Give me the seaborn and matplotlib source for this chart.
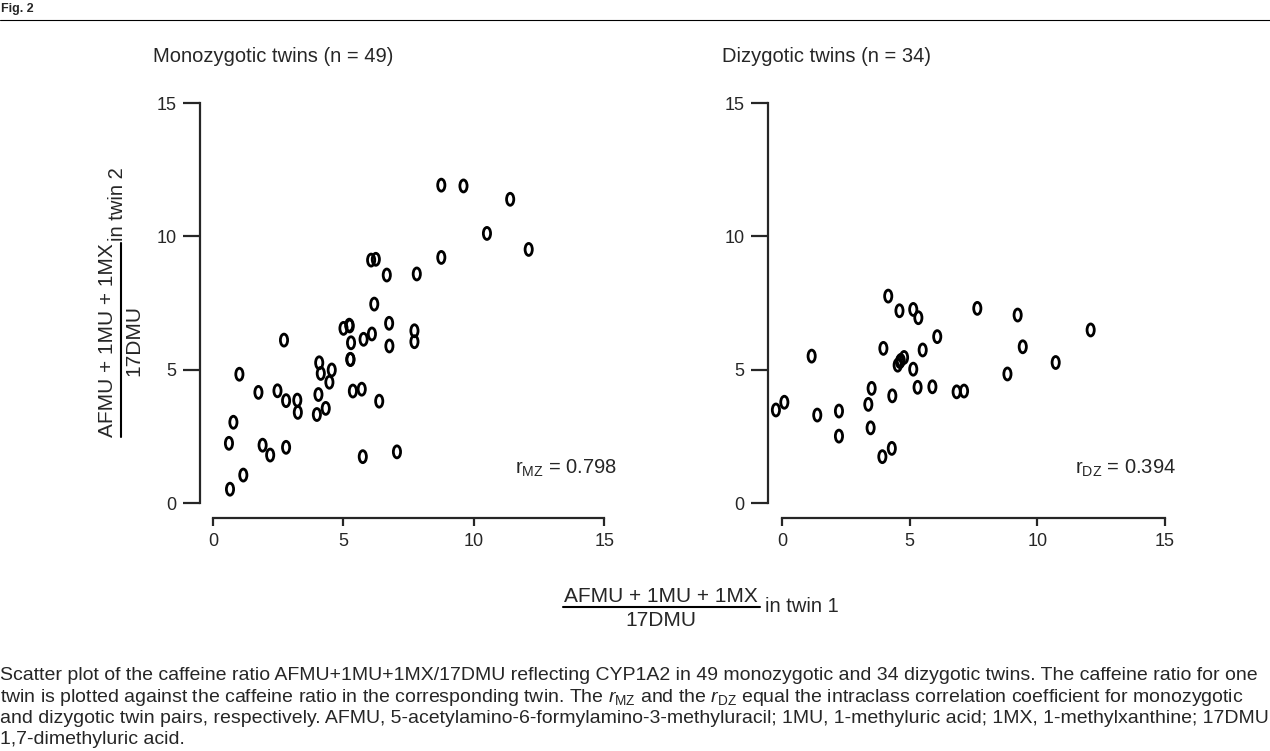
import matplotlib
matplotlib.use("Agg")
import matplotlib.pyplot as plt
import seaborn as sns
import pandas as pd
from matplotlib.path import Path
from matplotlib.lines import Line2D

mz_twin1 = [8.75, 9.6, 11.39, 10.5, 12.1, 8.75, 6.06, 6.24, 6.66, 7.81, 6.18, 5.0, 5.22, 5.24, 6.75,
            7.72, 7.72, 5.29, 5.77, 6.09, 6.76, 2.72, 5.26, 5.27, 4.07, 4.13, 4.55, 4.46, 1.01, 1.74,
            2.47, 2.80, 3.23, 3.25, 4.04, 3.98, 4.32, 5.36, 5.70, 6.37, 0.78, 0.61, 1.9, 2.19, 2.8,
            5.74, 7.05, 1.16, 0.65]
mz_twin2 = [11.92, 11.89, 11.39, 10.11, 9.51, 9.21, 9.11, 9.14, 8.55, 8.59, 7.46, 6.55, 6.67, 6.64, 6.74,
            6.46, 6.05, 6.01, 6.14, 6.34, 5.89, 6.11, 5.39, 5.38, 5.26, 4.86, 4.99, 4.53, 4.83, 4.15,
            4.21, 3.84, 3.86, 3.40, 4.07, 3.32, 3.55, 4.2, 4.27, 3.82, 3.03, 2.24, 2.17, 1.8, 2.09,
            1.74, 1.92, 1.05, 0.52]
dz_twin1 = [4.16, 4.6, 5.14, 5.34, 7.65, 9.23, 12.09, 6.08, 3.97, 5.51, 9.43, 1.16, 4.62, 4.78, 4.53,
            5.14, 10.72, 8.83, 3.51, 5.31, 5.89, 6.84, 7.13, 4.32, 3.38, -0.24, 0.09, 1.38, 2.23, 2.23,
            3.47, 3.93, 4.3, 4.65]
dz_twin2 = [7.76, 7.21, 7.26, 6.95, 7.3, 7.05, 6.49, 6.24, 5.8, 5.74, 5.86, 5.51, 5.3, 5.46, 5.17,
            5.02, 5.27, 4.84, 4.3, 4.34, 4.36, 4.17, 4.2, 4.02, 3.7, 3.49, 3.78, 3.3, 3.45, 2.51,
            2.82, 1.74, 2.05, 5.35]
ticks = [0, 5, 10, 15]

sns.set_style("white")
plt.rcParams['font.family'] = ['Liberation Sans', 'DejaVu Sans']
plt.rcParams['mathtext.fontset'] = 'custom'
plt.rcParams['mathtext.rm'] = 'Liberation Sans'
plt.rcParams['mathtext.it'] = 'Liberation Sans:italic'

fig = plt.figure(figsize=(12.7, 7.51), dpi=100)
W, H = 1270, 751

def fx(p): return p / W
def fy(p): return 1 - p / H

circ = Path.unit_circle()
ellipse = Path(circ.vertices * [0.6, 1.0], circ.codes)

panels = [
    (mz_twin1, mz_twin2, (200, 620), (-0.5, 15.6), 'Monozygotic twins (n = 49)', 153, r'r$_{\mathrm{MZ}}$ = 0.798', 617),
    (dz_twin1, dz_twin2, (768, 1180), (-0.55, 15.59), 'Dizygotic twins (n = 34)', 722, r'r$_{\mathrm{DZ}}$ = 0.394', 1176),
]
for x1, x2, (l, r), xl, title, tx, rtxt, rx in panels:
    ax = fig.add_axes([fx(l), fy(518), (r - l) / W, (518 - 95) / H])
    df = pd.DataFrame({'t1': x1, 't2': x2})
    sns.scatterplot(data=df, x='t1', y='t2', ax=ax, marker=ellipse, s=75,
                    edgecolors='black', facecolors='none', linewidths=2.0, legend=False)
    ax.set_xlim(*xl)
    ax.set_ylim(-0.56, 15.3)
    ax.set_xticks(ticks)
    ax.set_yticks(ticks)
    for s in ['top', 'right']:
        ax.spines[s].set_visible(False)
    ax.spines['left'].set_bounds(0, 15)
    ax.spines['bottom'].set_bounds(0, 15)
    ax.spines['left'].set_linewidth(1.6)
    ax.spines['bottom'].set_linewidth(1.6)
    ax.tick_params(axis='y', direction='out', length=12, width=1.6, labelsize=13, pad=5, left=True)
    ax.tick_params(axis='x', direction='out', length=6, width=1.6, labelsize=13, pad=5, bottom=True)
    ax.set_xlabel('')
    ax.set_ylabel('')
    ax.patch.set_alpha(0)
    fig.text(fx(tx), fy(57), title, fontsize=14.5, va='center', ha='left')
    fig.text(fx(rx), fy(468), rtxt, fontsize=14.5, va='center', ha='right')

# y label fraction
fig.text(fx(107), fy(340), 'AFMU + 1MU + 1MX', rotation=90, fontsize=15, ha='center', va='center')
fig.text(fx(134), fy(340), '17DMU', rotation=90, fontsize=15, ha='center', va='center')
fig.add_artist(Line2D([fx(121), fx(121)], [fy(437), fy(243)], color='black', lw=1.5))
fig.text(fx(117), fy(204), 'in twin 2', rotation=90, fontsize=14.5, ha='center', va='center')

# x label fraction
fig.text(fx(661), fy(596), 'AFMU + 1MU + 1MX', fontsize=15, ha='center', va='center')
fig.text(fx(661), fy(620), '17DMU', fontsize=15, ha='center', va='center')
fig.add_artist(Line2D([fx(563), fx(760)], [fy(607), fy(607)], color='black', lw=1.5))
fig.text(fx(765), fy(606), 'in twin 1', fontsize=14.5, ha='left', va='center')

# header
fig.text(fx(1), fy(9), 'Fig. 2', fontsize=9, fontweight='bold', ha='left', va='center')
fig.add_artist(Line2D([0, 1], [fy(20), fy(20)], color='black', lw=0.8))

caption = [
    'Scatter plot of the caffeine ratio AFMU+1MU+1MX/17DMU reflecting CYP1A2 in 49 monozygotic and 34 dizygotic twins. The caffeine ratio for one',
    r'twin is plotted against the caffeine ratio in the corresponding twin. The $\mathit{r}_{\mathrm{MZ}}$ and the $\mathit{r}_{\mathrm{DZ}}$ equal the intraclass correlation coefficient for monozygotic',
    'and dizygotic twin pairs, respectively. AFMU, 5-acetylamino-6-formylamino-3-methyluracil; 1MU, 1-methyluric acid; 1MX, 1-methylxanthine; 17DMU,',
    '1,7-dimethyluric acid.',
]
for i, line in enumerate(caption):
    fig.text(fx(0), fy(676 + 21.3 * i), line, fontsize=14, ha='left', va='center')

fig.savefig('out.png', dpi=100)
